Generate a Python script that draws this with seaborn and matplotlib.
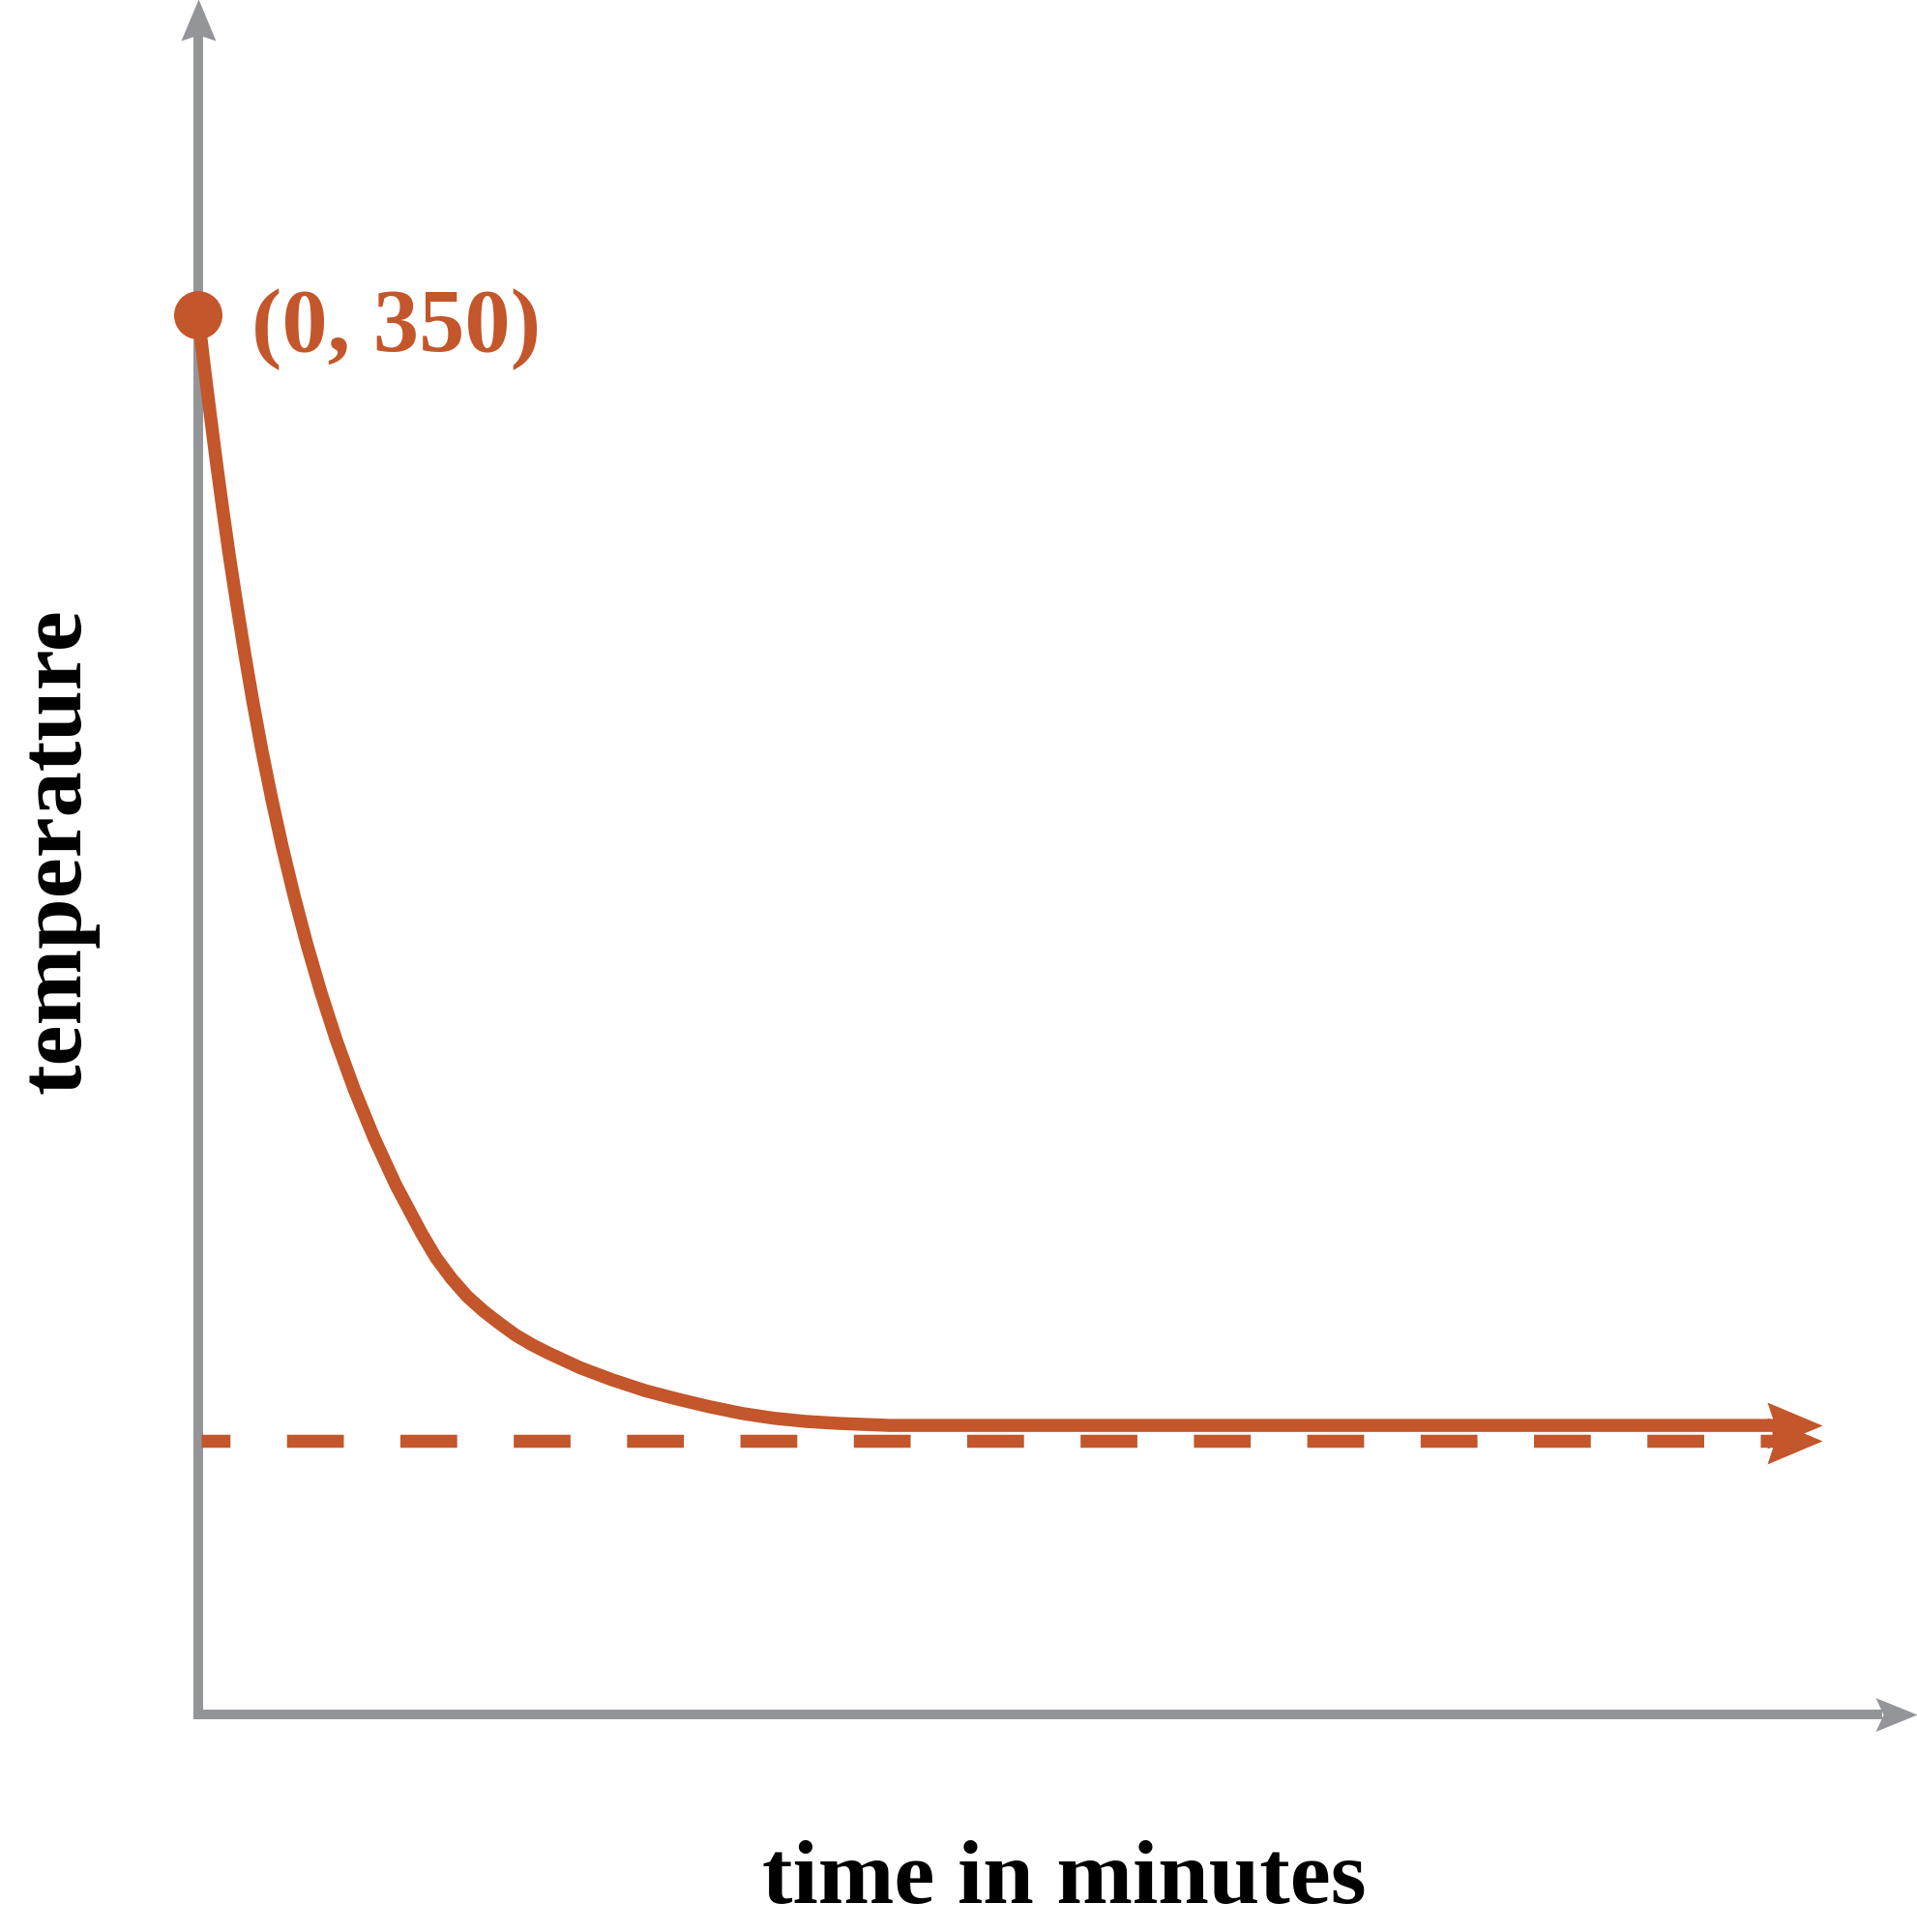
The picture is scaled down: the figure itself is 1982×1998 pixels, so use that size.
import numpy as np
import pandas as pd
import matplotlib
matplotlib.use("Agg")
import matplotlib.pyplot as plt
import matplotlib.font_manager as fm
import seaborn as sns
from matplotlib.path import Path

# cooling curve (minutes, degrees)
time_min = [0.0, 0.33, 0.68, 1.04, 1.42, 1.82, 2.25, 2.70, 3.18, 3.70, 4.27,
            4.89, 5.57, 6.31, 7.13, 8.04, 9.06, 10.21, 11.51, 13.01, 13.84,
            14.74, 15.64, 16.60, 17.50, 18.46, 19.41, 20.37, 22.23, 24.09,
            26.00, 27.86, 29.71, 31.63, 33.48, 35.34, 37.25, 40.24, 92.57]
temperature = [350.0, 337.9, 325.8, 313.7, 301.6, 289.5, 277.5, 265.4, 253.3,
               241.2, 229.1, 217.0, 204.9, 192.8, 180.7, 168.6, 156.5, 144.4,
               132.3, 120.2, 114.2, 109.0, 104.6, 100.9, 97.9, 94.9, 92.5,
               90.4, 86.7, 83.7, 81.0, 78.9, 77.0, 75.3, 74.1, 73.3, 72.8,
               72.3, 72.3]
curve_tip = 94.5

# room temperature asymptote
room_temp = 68.5
room_x = [0.17, 92.6]

start_point = (0, 350)
start_label = "(0, 350)"

x_axis_end = 100.0
y_axis_end = 429.0

orange = "#c3562a"
gray = "#939598"

sns.set_style("white")

# bold Times-like face: take the first one that is installed
installed = {f.name for f in fm.fontManager.ttflist}
serif_name = "DejaVu Serif"
for name in ["Liberation Serif", "Times New Roman", "Nimbus Roman",
             "TeX Gyre Termes", "FreeSerif", "STIXGeneral"]:
    if name in installed:
        serif_name = name
        break
plt.rcParams["font.family"] = [serif_name, "DejaVu Serif"]
label_font = fm.FontProperties(family=serif_name, weight="bold", size=68)


def arrow_head(L, w, notch, up=False):
    # notched arrow head, tip at the origin
    if up:
        verts = [(0, 0), (-w, -L), (0, -L + notch), (w, -L), (0, 0)]
    else:
        verts = [(0, 0), (-L, w), (-L + notch, 0), (-L, -w), (0, 0)]
    codes = [Path.MOVETO, Path.LINETO, Path.LINETO, Path.LINETO, Path.CLOSEPOLY]
    return Path(verts, codes)


fig = plt.figure(figsize=(19.83, 19.99), dpi=100)
ax = fig.add_axes([0, 0, 1, 1])
ax.axis("off")

# axes drawn as arrows
ax.plot([0, 0, x_axis_end - 2.0], [y_axis_end - 8.8, 0, 0], color=gray, lw=7.2,
        solid_joinstyle="miter", solid_capstyle="butt", clip_on=False)
ax.plot([0], [y_axis_end], marker=arrow_head(43, 18, 6, up=True), ms=61.9,
        color=gray, mew=0, clip_on=False)
ax.plot([x_axis_end], [0], marker=arrow_head(43, 17.5, 8), ms=61.9,
        color=gray, mew=0, clip_on=False)

# dashed asymptote
room = pd.DataFrame({"t": room_x, "T": [room_temp] * len(room_x)})
sns.lineplot(data=room, x="t", y="T", ax=ax, color=orange, lw=9.7,
             linestyle=(2.15, (4.36, 4.34)), dash_capstyle="butt")
ax.plot([curve_tip], [room_temp], marker=arrow_head(57, 24, 8), ms=82.1,
        color=orange, mew=0)

# cooling curve
df = pd.DataFrame({"t": time_min, "T": temperature})
sns.lineplot(data=df, x="t", y="T", ax=ax, color=orange, lw=9.7,
             solid_capstyle="butt", solid_joinstyle="round")
ax.plot([curve_tip], [temperature[-1]], marker=arrow_head(57, 24, 8), ms=82.1,
        color=orange, mew=0)

sns.scatterplot(x=[start_point[0]], y=[start_point[1]], ax=ax, s=36 ** 2,
                color=orange, edgecolor="none", zorder=5)
ax.text(3.1, 341.3, start_label, color=orange, fontproperties=label_font,
        ha="left", va="baseline")

ax.text(50.4, -46.9, "time in minutes", color="black", fontproperties=label_font,
        ha="center", va="baseline")
ax.text(-8.16, 216.3, "temperature", color="black", fontproperties=label_font,
        rotation=90, ha="center", va="center")

ax.set_xlim(-11.536, 100.056)
ax.set_ylim(-54.425, 429.117)
ax.set_xlabel("")
ax.set_ylabel("")
fig.savefig("out.png", dpi=100, facecolor="white")
